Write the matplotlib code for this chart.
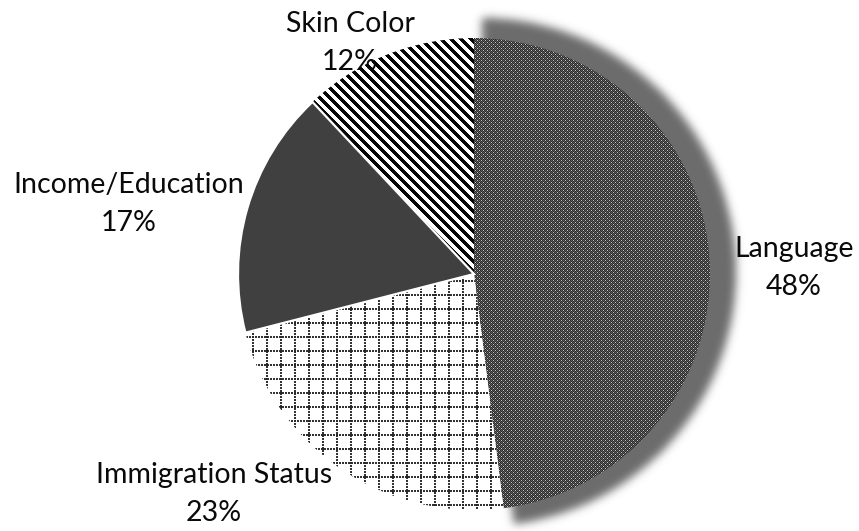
import numpy as np
import matplotlib
matplotlib.use('Agg')
import matplotlib.pyplot as plt

# share of respondents by reason
labels = ['Language', 'Immigration Status', 'Income/Education', 'Skin Color']
shares = [48, 23, 17, 12]

# baseline of the name line for each label, in pixels from top-left
label_x = [794, 214, 129, 350]
label_y = [257, 483, 193, 32]

W, H = 859, 531
fig = plt.figure(figsize=(W / 100, H / 100), dpi=100)
ax = fig.add_axes([0, 0, 1, 1])

cx, cy, R = 474, H - 274, 236
wedges, _ = ax.pie(shares, startangle=90, counterclock=False, center=(cx, cy), radius=R,
                   colors=['none', 'none', '#404040', 'none'],
                   wedgeprops=dict(edgecolor='none', linewidth=0))
for w in wedges:
    w.set_zorder(3)
wedges[2].set_edgecolor('white')
wedges[2].set_linewidth(1.6)

yy, xx = np.mgrid[0:H, 0:W]

# textures, one value per output pixel
lang_tile = np.array([[40, 200, 40, 95],
                      [95, 40, 95, 40],
                      [40, 95, 40, 200],
                      [95, 40, 95, 40]]) / 255
lang_tex = np.tile(lang_tile, (H // 4 + 1, W // 4 + 1))[:H, :W]

imm_tex = np.ones((H, W))
vline = (xx % 14) < 2
hline = (yy % 14) < 2
imm_tex[vline & (yy % 3 != 2)] = 0.2
imm_tex[hline & (xx % 3 != 2)] = 0.2
imm_tex[vline & hline] = 0.15

skin_tex = np.where((xx - yy) % 10 < 4.8, 0.03, 1.0)

for w, tex in [(wedges[0], lang_tex), (wedges[1], imm_tex), (wedges[3], skin_tex)]:
    im = ax.imshow(tex, cmap='gray', vmin=0, vmax=1, extent=(0, W, 0, H), origin='upper',
                   interpolation='nearest', zorder=2)
    im.set_clip_path(w)

# soft drop shadow behind the Language slice
scx, scy, sr = cx + 8, cy + 2, R + 18
dx = xx + 0.5 - scx
dy = (H - yy - 0.5) - scy
ang = np.degrees(np.arctan2(dy, dx))
t1, t2 = wedges[0].theta1, wedges[0].theta2
mask = ((np.hypot(dx, dy) <= sr) & (ang >= t1) & (ang <= t2)).astype(float)
k = np.exp(-0.5 * (np.arange(-14, 15) / 4.5) ** 2)
k /= k.sum()
mask = np.apply_along_axis(lambda r: np.convolve(r, k, mode='same'), 1, mask)
mask = np.apply_along_axis(lambda c: np.convolve(c, k, mode='same'), 0, mask)
shadow = np.zeros((H, W, 4))
shadow[..., :3] = 0.42
shadow[..., 3] = mask
ax.imshow(shadow, extent=(0, W, 0, H), origin='upper', zorder=1)

for name, s, x, y in zip(labels, shares, label_x, label_y):
    ax.text(x, H - y, name, ha='center', va='baseline', fontsize=20.5, family='Lato', color='#0a0a0a')
    ax.text(x, H - y - 38, f'{s}%', ha='center', va='baseline', fontsize=20.5, family='Lato', color='#0a0a0a')

ax.set_xlim(0, W)
ax.set_ylim(0, H)
ax.set_aspect('equal')
ax.axis('off')

fig.savefig('out.png', dpi=100)
